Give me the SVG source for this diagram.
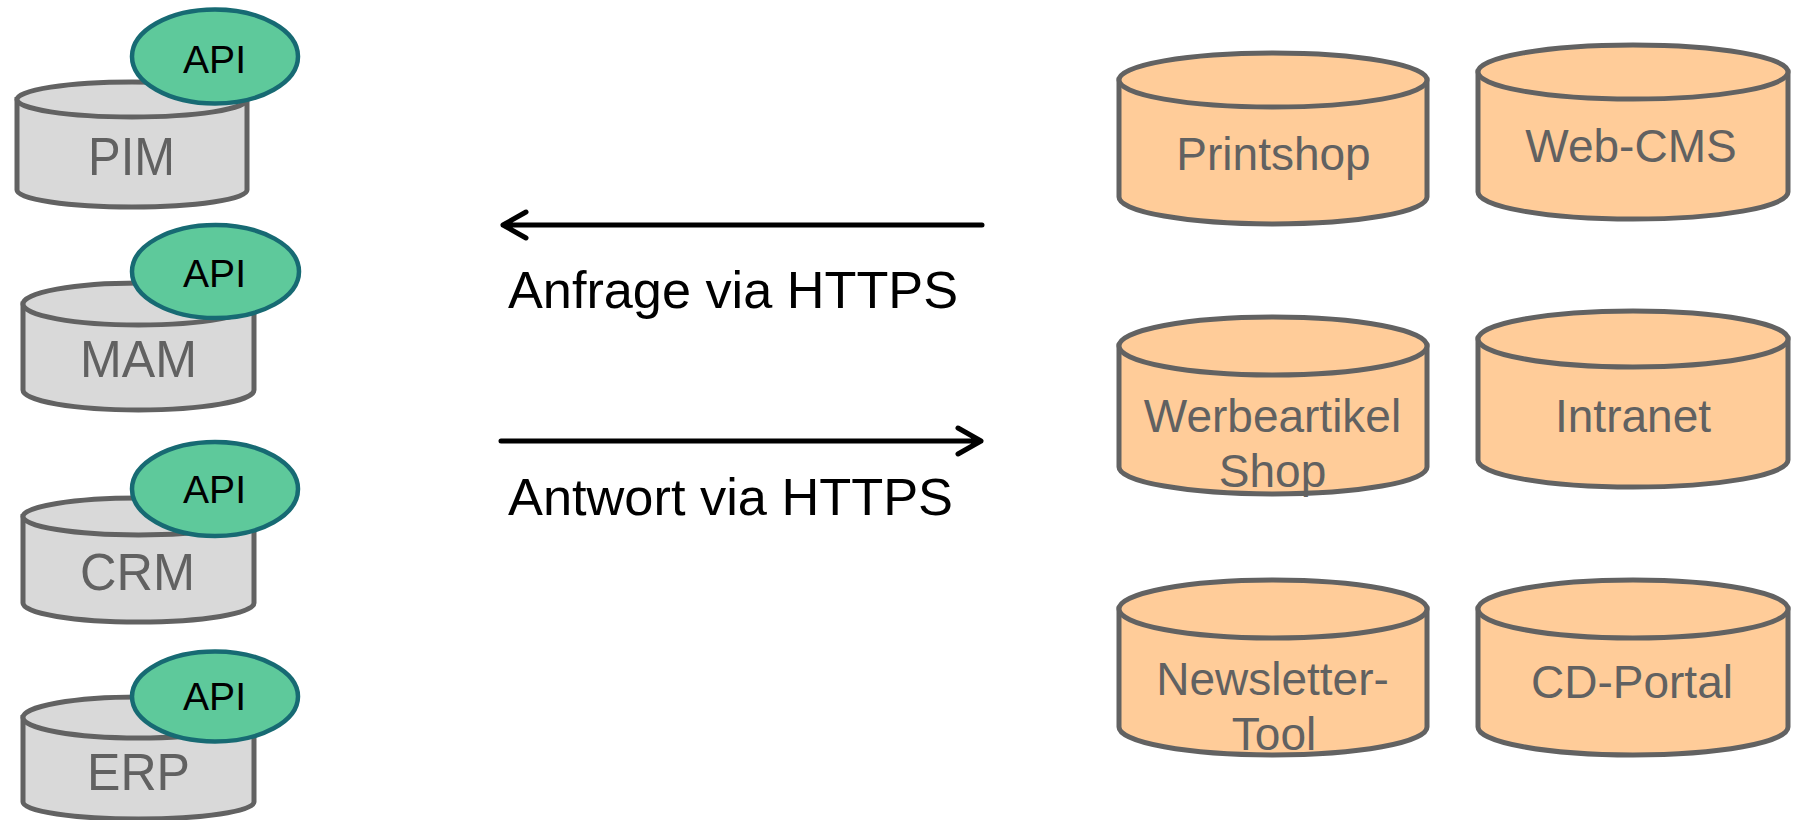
<svg xmlns="http://www.w3.org/2000/svg" width="1794" height="820" viewBox="0 0 1794 820">
<style>
.gray{fill:#d9d9d9;stroke:#626262;stroke-width:5}
.orange{fill:#ffcc99;stroke:#626262;stroke-width:5}
.api{fill:#5ec99b;stroke:#176a73;stroke-width:4.5}
.lbl{font-family:"Liberation Sans",Arial,sans-serif;fill:#616161}
.rl{font-family:"Liberation Sans",Arial,sans-serif;fill:#616161;font-size:46px;text-anchor:middle}
.apit{font-family:"Liberation Sans",Arial,sans-serif;fill:#000;font-size:38px}
.conn{stroke:#000;stroke-width:5;fill:none;stroke-linecap:round;stroke-linejoin:round}
.clbl{font-family:"Liberation Sans",Arial,sans-serif;fill:#000;font-size:52px}
</style>
<rect width="1794" height="820" fill="#fff"/>
<g id="pim">
<path class="gray" d="M17 99.5 V190 A115 17 0 0 0 247 190 V99.5 Z"/>
<ellipse class="gray" cx="132" cy="99.5" rx="115" ry="17.5"/>
<text class="lbl" x="88" y="175" font-size="53" textLength="87" lengthAdjust="spacingAndGlyphs">PIM</text>
<ellipse class="api" cx="215" cy="56.5" rx="83" ry="47"/>
<text class="apit" x="183" y="73" textLength="63" lengthAdjust="spacingAndGlyphs">API</text>
</g>
<g id="mam">
<path class="gray" d="M23 304 V390 A115.5 20 0 0 0 254 390 V304 Z"/>
<ellipse class="gray" cx="138.5" cy="304" rx="115.5" ry="21"/>
<text class="lbl" x="80" y="377" font-size="52" textLength="117" lengthAdjust="spacingAndGlyphs">MAM</text>
<ellipse class="api" cx="215.5" cy="271.5" rx="83.5" ry="46.5"/>
<text class="apit" x="183" y="287" textLength="63" lengthAdjust="spacingAndGlyphs">API</text>
</g>
<g id="crm">
<path class="gray" d="M23 516.5 V603 A115.5 19 0 0 0 254 603 V516.5 Z"/>
<ellipse class="gray" cx="138.5" cy="516.5" rx="115.5" ry="18.5"/>
<text class="lbl" x="80" y="590" font-size="52" textLength="115" lengthAdjust="spacingAndGlyphs">CRM</text>
<ellipse class="api" cx="215" cy="489" rx="83" ry="47"/>
<text class="apit" x="183" y="503" textLength="63" lengthAdjust="spacingAndGlyphs">API</text>
</g>
<g id="erp">
<path class="gray" d="M23 717.5 V802 A115.5 17 0 0 0 254 802 V717.5 Z"/>
<ellipse class="gray" cx="138.5" cy="717.5" rx="115.5" ry="20.5"/>
<text class="lbl" x="87" y="790" font-size="52" textLength="103" lengthAdjust="spacingAndGlyphs">ERP</text>
<ellipse class="api" cx="215" cy="696.5" rx="83" ry="45"/>
<text class="apit" x="183" y="710" textLength="63" lengthAdjust="spacingAndGlyphs">API</text>
</g>
<g id="connectors">
<path class="conn" d="M982 225 H503 M526 212 L503 225 L526 238"/>
<path class="conn" d="M501 441 H981 M958 428 L981 441 L958 454"/>
<text class="clbl" x="508" y="308" textLength="450" lengthAdjust="spacingAndGlyphs">Anfrage via HTTPS</text>
<text class="clbl" x="508" y="515" textLength="445" lengthAdjust="spacingAndGlyphs">Antwort via HTTPS</text>
</g>
<g id="printshop">
<path class="orange" d="M1119 80 V197 A154 27 0 0 0 1427 197 V80 Z"/>
<ellipse class="orange" cx="1273" cy="80" rx="154" ry="27"/>
<text class="rl" x="1273.5" y="170">Printshop</text>
</g>
<g id="webcms">
<path class="orange" d="M1478 72 V192 A155 27 0 0 0 1788 192 V72 Z"/>
<ellipse class="orange" cx="1633" cy="72" rx="155" ry="27"/>
<text class="rl" x="1631" y="162">Web-CMS</text>
</g>
<g id="werbeartikel">
<path class="orange" d="M1119 346 V467 A154 27 0 0 0 1427 467 V346 Z"/>
<ellipse class="orange" cx="1273" cy="346" rx="154" ry="29"/>
<text class="rl" x="1272.5" y="432">Werbeartikel</text>
<text class="rl" x="1272.5" y="487">Shop</text>
</g>
<g id="intranet">
<path class="orange" d="M1478 339 V460 A155 27 0 0 0 1788 460 V339 Z"/>
<ellipse class="orange" cx="1633" cy="339" rx="155" ry="28"/>
<text class="rl" x="1633" y="432">Intranet</text>
</g>
<g id="newsletter">
<path class="orange" d="M1119 609 V727 A154 28 0 0 0 1427 727 V609 Z"/>
<ellipse class="orange" cx="1273" cy="609" rx="154" ry="29"/>
<text class="rl" x="1272.5" y="695">Newsletter-</text>
<text class="rl" x="1274" y="750">Tool</text>
</g>
<g id="cdportal">
<path class="orange" d="M1478 609 V727 A155 28 0 0 0 1788 727 V609 Z"/>
<ellipse class="orange" cx="1633" cy="609" rx="155" ry="29"/>
<text class="rl" x="1632" y="698">CD-Portal</text>
</g>
</svg>
